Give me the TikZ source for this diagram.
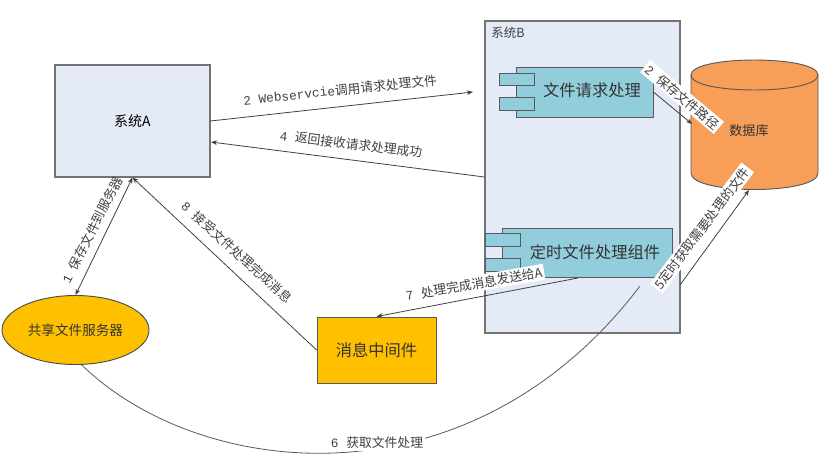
\documentclass[tikz,border=0pt]{standalone}
\usepackage{fontspec}
\setmainfont{Noto Sans CJK SC}
\newfontfamily\latinmono{Liberation Mono}
\usetikzlibrary{shapes.geometric,arrows.meta}
\definecolor{sysfill}{HTML}{E4EBF6}
\definecolor{compfill}{HTML}{92CDDC}
\definecolor{dbfill}{HTML}{F79E59}
\definecolor{goldfill}{HTML}{FFC000}
\tikzset{
  sysbox/.style={draw=black!55,line width=0.8pt,fill=sysfill,inner sep=0pt},
  compbody/.style={draw=black!65,line width=0.7pt,fill=compfill,inner sep=0pt},
  comptab/.style={compbody,minimum width=26.25pt,minimum height=9.4pt},
  compname/.style={font=\fontsize{12.2}{14}\selectfont,text=black!80},
  goldbox/.style={draw=black!65,line width=0.7pt,fill=goldfill,inner sep=0pt},
  dbline/.style={draw=black!65,line width=0.7pt,fill=dbfill},
  flow/.style={draw=black!75,line width=0.6pt,-{Stealth[length=4.5pt,width=3.5pt]}},
  flowtext/.style={font=\fontsize{9.6}{11}\selectfont,text=black!75,inner sep=1.5pt},
  flowmask/.style={flowtext,fill=white}
}
\begin{document}
\begin{tikzpicture}[x=0.75pt,y=-0.75pt]
\useasboundingbox (0,0) rectangle (826,458);
\node[sysbox,minimum width=116.25pt,minimum height=84pt,font=\fontsize{10.5}{12}\selectfont] (sysA) at (132.5,121) {系统A};
\node[sysbox,minimum width=146.25pt,minimum height=234pt] (sysB) at (582.5,177) {};
\node[font=\fontsize{9.4}{11}\selectfont,text=black!75] (sysBname) at (508,33) {系统B};
\node[compbody,minimum width=102.75pt,minimum height=37.5pt] (reqbody) at (584.5,92) {};
\node[comptab] (reqtabA) at (516.5,79.5) {};
\node[comptab] (reqtabB) at (516.5,104) {};
\node[compname] (reqname) at (592,90) {文件请求处理};
\node[compbody,minimum width=127.5pt,minimum height=36.75pt] (timebody) at (587,252.5) {};
\node[comptab] (timetabA) at (502.5,240) {};
\node[comptab] (timetabB) at (502.5,265) {};
\node[compname] (timename) at (595,252) {定时文件处理组件};
\draw[dbline] (691,75) -- (691,173) .. controls (691,195) and (818,195) .. (818,173) -- (818,75) -- cycle;
\draw[dbline] (691,75) .. controls (691,55) and (818,55) .. (818,75) .. controls (818,95) and (691,95) .. (691,75) -- cycle;
\node[font=\fontsize{9.8}{11}\selectfont,text=black!80] (dbname) at (749,131) {数据库};
\node[ellipse,draw=black!70,line width=0.7pt,fill=goldfill,minimum width=110.25pt,minimum height=51.75pt,inner sep=0pt,font=\fontsize{10.2}{12}\selectfont,text=black!80] (share) at (75.5,330) {共享文件服务器};
\node[goldbox,minimum width=89.25pt,minimum height=49.5pt,font=\fontsize{12.2}{14}\selectfont,text=black!80] (msg) at (376.5,350) {消息中间件};
\coordinate (webend) at (473,92);
\coordinate (ackend) at (211,142);
\coordinate (donestart) at (578,278);
\coordinate (dbside) at (692,124);
\coordinate (pollstart) at (680,285);
\coordinate (pollend) at (749,190);
\coordinate (shareend) at (640,286);
\draw[flow] (sysA.east) -- (webend);
\draw[flow] (sysB.west) -- (ackend);
\draw[flow,{Stealth[length=4.5pt,width=3.5pt]}-{Stealth[length=4.5pt,width=3.5pt]}] (sysA.south) -- (share.north);
\draw[flow] (msg.west) -- (sysA.south);
\draw[flow] (donestart) -- (msg.north);
\draw[flow] (reqbody.east) -- (dbside);
\draw[flow] (pollstart) -- (pollend);
\draw[draw=black!65,line width=0.6pt] (share.280) .. controls (200,480) and (470,510) .. (shareend);
\node[flowtext,rotate=6] (webtext) at (340,90) {{\latinmono 2 Webservcie}调用请求处理文件};
\node[flowtext,rotate=-7] (acktext) at (351,144) {{\latinmono 4 }返回接收请求处理成功};
\node[flowtext,rotate=63] (savetext) at (92,230) {{\latinmono 1 }保存文件到服务器};
\node[flowtext,rotate=-42] (donetext) at (237,252) {{\latinmono 8 }接受文件处理完成消息};
\node[flowmask,rotate=10] (sendtext) at (474,284) {{\latinmono 7 }处理完成消息发送给A};
\node[flowmask,rotate=-40] (pathtext) at (682,97) {{\latinmono 2 }保存文件路径};
\node[flowmask,rotate=53] (polltext) at (702,228) {5定时获取需要处理的文件};
\node[flowmask] (gettext) at (377,443) {{\latinmono 6 }获取文件处理};
\end{tikzpicture}
\end{document}
